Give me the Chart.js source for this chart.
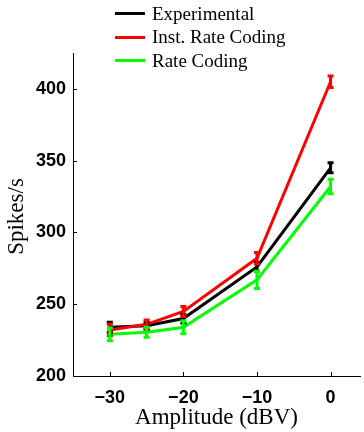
<!DOCTYPE html>
<html><head><meta charset="utf-8">
<script src="https://cdn.jsdelivr.net/npm/chart.js@4/dist/chart.umd.min.js"></script>
<style>
html,body{margin:0;padding:0;background:#fff;}
#wrap{position:relative;width:364px;height:432px;}
#legend{position:absolute;left:115px;top:1.5px;font-family:"Liberation Serif","DejaVu Serif",serif;font-size:19px;color:#000;}
.item{height:23.7px;line-height:23.7px;display:flex;align-items:center;}
.sw{width:30px;height:3px;margin-right:7px;}
</style></head>
<body>
<div id="wrap"><canvas id="c" width="364" height="432"></canvas>
<div id="legend"></div></div>
<script>
const amplitudes = [-30, -25, -20, -10, 0];
const seriesNames = ["Experimental", "Inst. Rate Coding", "Rate Coding"];
const experimental = [234, 235, 240, 276, 345];
const experimentalErr = [3.5, 2.5, 3, 3, 3.5];
const instRate = [232, 236, 245, 282, 405];
const instRateErr = [4, 3, 3.5, 4, 4];
const rateCoding = [229, 230.5, 234, 267, 332];
const rateCodingErr = [4.5, 3.5, 4.5, 6, 5];
const xTicks = [-30, -20, -10, 0];
const yTicks = [200, 250, 300, 350, 400];
const xTitle = "Amplitude (dBV)";
const yTitle = "Spikes/s";
const colors = ["#000000", "#ff0000", "#00ff00"];

const seriesVals = [experimental, instRate, rateCoding];
const seriesErrs = [experimentalErr, instRateErr, rateCodingErr];

const datasets = seriesVals.map((vals, i) => ({
  label: seriesNames[i],
  data: amplitudes.map((a, j) => ({x: a, y: vals[j]})),
  errors: seriesErrs[i],
  borderColor: colors[i],
  backgroundColor: colors[i],
  borderWidth: 3,
  pointRadius: 0,
  tension: 0,
  order: 3 - i
}));

const legendEl = document.getElementById('legend');
seriesNames.forEach((n, i) => {
  const d = document.createElement('div'); d.className = 'item';
  const s = document.createElement('div'); s.className = 'sw'; s.style.background = colors[i];
  const t = document.createElement('span'); t.textContent = n;
  d.appendChild(s); d.appendChild(t); legendEl.appendChild(d);
});

const titleFontCss = '23px "Liberation Serif", "DejaVu Serif", serif';

const errorPlugin = {
  id: 'errbars',
  afterDatasetsDraw(chart) {
    const ctx = chart.ctx, xs = chart.scales.x, ys = chart.scales.y;
    ctx.save();
    chart.data.datasets.forEach(ds => {
      ctx.strokeStyle = ds.borderColor; ctx.lineWidth = 3;
      ds.data.forEach((p, j) => {
        const e = ds.errors[j];
        const px = xs.getPixelForValue(p.x);
        const y1 = ys.getPixelForValue(p.y - e), y2 = ys.getPixelForValue(p.y + e);
        ctx.beginPath();
        ctx.moveTo(px, y1); ctx.lineTo(px, y2);
        ctx.moveTo(px - 3, y1); ctx.lineTo(px + 3, y1);
        ctx.moveTo(px - 3, y2); ctx.lineTo(px + 3, y2);
        ctx.stroke();
      });
    });
    // inward tick marks
    ctx.strokeStyle = '#000'; ctx.lineWidth = 1;
    const area = chart.chartArea;
    xs.ticks.forEach(t => {
      const px = Math.round(xs.getPixelForValue(t.value)) + 0.5;
      ctx.beginPath(); ctx.moveTo(px, area.bottom); ctx.lineTo(px, area.bottom - 4); ctx.stroke();
    });
    ys.ticks.forEach(t => {
      const py = Math.round(ys.getPixelForValue(t.value)) + 0.5;
      ctx.beginPath(); ctx.moveTo(area.left, py); ctx.lineTo(area.left + 4, py); ctx.stroke();
    });
    // y axis title
    ctx.fillStyle = '#000';
    ctx.font = titleFontCss;
    ctx.textAlign = 'center';
    ctx.textBaseline = 'middle';
    ctx.translate(17, (area.top + area.bottom) / 2 + 2);
    ctx.rotate(-Math.PI / 2);
    ctx.fillText(yTitle, 0, 0);
    ctx.restore();
  }
};

const tickFont = {family: '"Liberation Sans", Arial, sans-serif', size: 18, weight: 'bold'};
const titleFont = {family: '"Liberation Serif", "DejaVu Serif", serif', size: 23};

new Chart(document.getElementById('c'), {
  type: 'line',
  data: {datasets},
  options: {
    responsive: false,
    animation: false,
    layout: {padding: {top: 53, right: 4, left: 0, bottom: 0}},
    plugins: {legend: {display: false}, tooltip: {enabled: false}},
    scales: {
      x: {
        type: 'linear', min: -35, max: 4,
        afterBuildTicks: s => { s.ticks = xTicks.map(v => ({value: v})); },
        afterFit: s => { s.height = 56; },
        ticks: {font: tickFont, color: '#000', padding: 11, maxRotation: 0,
          callback: v => (v < 0 ? '\u2212' + Math.abs(v) : String(v))},
        grid: {display: true, drawOnChartArea: false, drawTicks: false, color: '#000'},
        border: {display: true, color: '#000', width: 1},
        title: {display: true, text: xTitle, font: titleFont, color: '#000', padding: {top: 0, bottom: 0}}
      },
      y: {
        type: 'linear', min: 200, max: 425,
        afterBuildTicks: s => { s.ticks = yTicks.map(v => ({value: v})); },
        afterFit: s => { s.width = 73; },
        ticks: {font: tickFont, color: '#000', padding: 7},
        grid: {display: true, drawOnChartArea: false, drawTicks: false, color: '#000'},
        border: {display: true, color: '#000', width: 1},
        title: {display: false}
      }
    }
  },
  plugins: [errorPlugin]
});
</script>
</body></html>
